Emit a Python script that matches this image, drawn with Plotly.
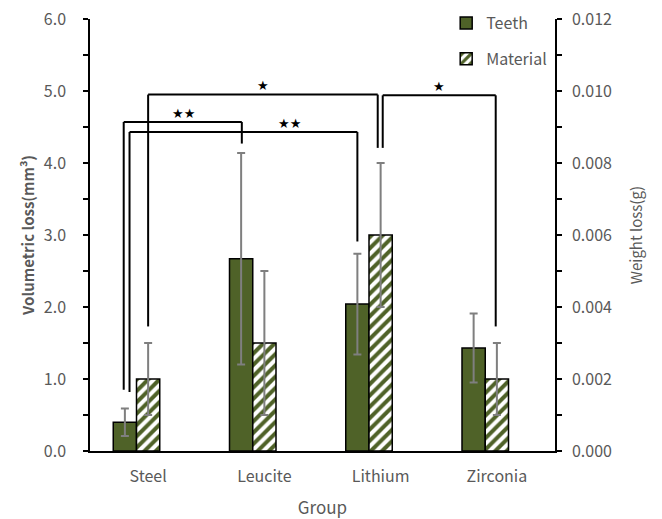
import plotly.graph_objects as go

# ---- data ----
groups = ["Steel", "Leucite", "Lithium", "Zirconia"]
teeth_vol = [0.40, 2.67, 2.04, 1.43]          # mm^3 (left axis)
teeth_err = [0.19, 1.47, 0.70, 0.48]
material_wt = [0.002, 0.003, 0.006, 0.002]    # g (right axis)
material_err = [0.001, 0.002, 0.002, 0.001]
left_tickvals = [0, 1, 2, 3, 4, 5, 6]
left_ticktext = ["0.0", "1.0", "2.0", "3.0", "4.0", "5.0", "6.0"]
right_tickvals = [0, 0.002, 0.004, 0.006, 0.008, 0.010, 0.012]
right_ticktext = ["0.000", "0.002", "0.004", "0.006", "0.008", "0.010", "0.012"]

# significance brackets: (x_left, x_right, y_top, y_left_end, y_right_end, label, label_x, label_y)
brackets = [
    (0.00, 1.975, 4.95, 1.73, 4.21, "★", 0.99, 5.07),
    (-0.21, 0.806, 4.57, 0.85, 4.27, "★★", 0.30, 4.69),
    (-0.16, 1.80, 4.43, 0.82, 2.91, "★★", 1.22, 4.55),
    (2.018, 2.99, 4.94, 4.21, 1.73, "★", 2.50, 5.06),
]

GREEN = "#4F6228"
GRAY = "#595959"
FONT = "Noto Sans CJK KR"

fig = go.Figure()
fig.add_trace(go.Bar(
    x=groups, y=teeth_vol, name="Teeth", legendgroup="t",
    offset=-0.3, width=0.2,
    marker=dict(color=GREEN, line=dict(color="black", width=1.5)),
    error_y=dict(type="data", array=teeth_err, color="#7F7F7F", thickness=2, width=4),
))
fig.add_trace(go.Bar(
    x=groups, y=material_wt, name="Material", legendgroup="m", yaxis="y2",
    offset=-0.1, width=0.2,
    marker=dict(color="white", line=dict(color="black", width=1.5),
                pattern=dict(shape="/", fgcolor=GREEN, bgcolor="white", size=8, solidity=0.5,
                             fgopacity=1)),
    error_y=dict(type="data", array=material_err, color="#7F7F7F", thickness=2, width=4),
))

shapes = []
annotations = []
for xl, xr, yt, yle, yre, lab, lx, ly in brackets:
    line = dict(color="black", width=2)
    shapes.append(dict(type="line", xref="x", yref="y", x0=xl, x1=xr, y0=yt, y1=yt, line=line))
    shapes.append(dict(type="line", xref="x", yref="y", x0=xl, x1=xl, y0=yt, y1=yle, line=line))
    shapes.append(dict(type="line", xref="x", yref="y", x0=xr, x1=xr, y0=yt, y1=yre, line=line))
    annotations.append(dict(x=lx, y=ly, xref="x", yref="y", text=lab, showarrow=False,
                            font=dict(size=13, color="black", family="DejaVu Sans")))

fig.update_layout(
    width=662, height=519,
    margin=dict(l=90, r=107, t=19, b=68, autoexpand=False),
    paper_bgcolor="white", plot_bgcolor="white",
    barmode="overlay",
    font=dict(family=FONT, color=GRAY, size=16),
    showlegend=True,
    legend=dict(x=0.766, y=1.03, xanchor="left", yanchor="top",
                font=dict(size=16, color=GRAY, family=FONT),
                tracegroupgap=12, bgcolor="rgba(0,0,0,0)"),
    xaxis=dict(type="category", range=[-0.5, 3.5], showline=True, linecolor="black", linewidth=1.5,
               ticks="", showgrid=False, tickfont=dict(size=16, color=GRAY), automargin=False,
               ticklabelstandoff=10,
               title=dict(text="Group", font=dict(size=17, color=GRAY), standoff=18)),
    yaxis=dict(range=[0, 6], tickvals=left_tickvals, ticktext=left_ticktext,
               showline=True, linecolor="black", linewidth=1.5, ticks="outside", ticklen=5,
               tickcolor="black", tickwidth=1.5, showgrid=False, zeroline=False,
               minor=dict(dtick=0.5, ticks="outside", ticklen=5, tickcolor="black", tickwidth=1.5),
               tickfont=dict(size=16, color=GRAY), automargin=False, ticklabelstandoff=14,
               ticklabeloverflow="allow",
               title=dict(text="<b>Volumetric loss(mm³)</b>", font=dict(size=15, color=GRAY), standoff=6)),
    yaxis2=dict(range=[0, 0.012], tickvals=right_tickvals, ticktext=right_ticktext,
                overlaying="y", side="right",
                showline=True, linecolor="black", linewidth=1.5, ticks="outside", ticklen=5,
                tickcolor="black", tickwidth=1.5, showgrid=False, zeroline=False,
                minor=dict(dtick=0.001, ticks="outside", ticklen=5, tickcolor="black", tickwidth=1.5),
                tickfont=dict(size=16, color=GRAY), automargin=False, ticklabelstandoff=7,
                ticklabeloverflow="allow",
                title=dict(text="Weight loss(g)", font=dict(size=15, color=GRAY), standoff=20)),
    shapes=shapes,
    annotations=annotations,
)

# remove the default page margin so the 662x519 figure fills the window exactly
fig.write_html("out.html", config={"displayModeBar": False},
               post_script="document.body.style.margin='0';")
